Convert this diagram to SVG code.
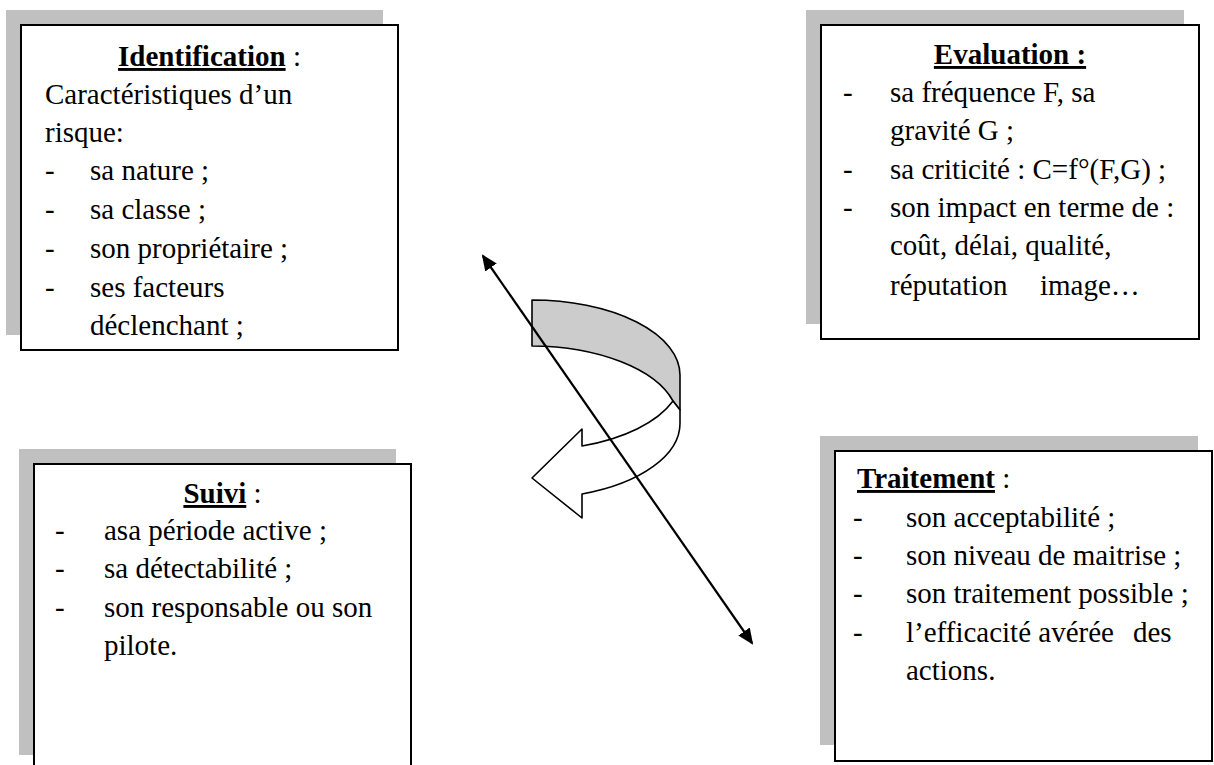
<svg xmlns="http://www.w3.org/2000/svg" width="1214" height="765" viewBox="0 0 1214 765" font-family="Liberation Serif, Times New Roman, Times, serif" font-size="29">
<defs>
<style>
.shadow{fill:#c0c0c0;}
.box{fill:#ffffff;stroke:#000;stroke-width:2;}
.t{font-weight:bold;text-decoration:underline;}
.mid{text-anchor:middle;}
.band{stroke:#000;stroke-width:1.6;stroke-linejoin:round;}
</style>
<marker id="ah" viewBox="0 0 16 14" refX="14" refY="7" markerWidth="16" markerHeight="14" markerUnits="userSpaceOnUse" orient="auto-start-reverse">
<path d="M0,0 L16,7 L0,14 Z" fill="#000"/>
</marker>
</defs>
<rect width="1214" height="765" fill="#fff"/>

<g id="identification">
<rect class="shadow" x="6" y="10" width="377" height="325"/>
<rect class="box" x="21" y="25" width="377" height="325"/>
<text class="mid" x="209.5" y="66"><tspan class="t">Identification</tspan> :</text>
<text x="45" y="104">Caractéristiques d’un</text>
<text x="45" y="142">risque:</text>
<text x="45" y="180">-</text><text x="90" y="180">sa nature ;</text>
<text x="45" y="219">-</text><text x="90" y="219">sa classe ;</text>
<text x="45" y="258">-</text><text x="90" y="258">son propriétaire ;</text>
<text x="45" y="297">-</text><text x="90" y="297">ses facteurs</text>
<text x="90" y="335">déclenchant ;</text>
</g>

<g id="evaluation">
<rect class="shadow" x="806" y="10" width="378" height="314"/>
<rect class="box" x="821" y="25" width="378" height="314"/>
<text class="mid t" x="1010" y="64">Evaluation :</text>
<text x="843" y="102">-</text><text x="890" y="102">sa fréquence F, sa</text>
<text x="890" y="140">gravité G ;</text>
<text x="843" y="179">-</text><text x="890" y="179">sa criticité : C=f°(F,G) ;</text>
<text x="843" y="217">-</text><text x="890" y="217">son impact en terme de :</text>
<text x="890" y="255">coût, délai, qualité,</text>
<text x="890" y="295">réputation</text><text x="1040" y="295">image…</text>
</g>

<g id="suivi">
<rect class="shadow" x="19" y="449" width="377" height="306"/>
<rect class="box" x="34" y="464" width="377" height="306"/>
<text class="mid" x="222.5" y="503"><tspan class="t">Suivi</tspan> :</text>
<text x="55" y="540">-</text><text x="104" y="540">asa période active ;</text>
<text x="55" y="578">-</text><text x="104" y="578">sa détectabilité ;</text>
<text x="55" y="617">-</text><text x="104" y="617">son responsable ou son</text>
<text x="104" y="655">pilote.</text>
</g>

<g id="traitement">
<rect class="shadow" x="820" y="436" width="378" height="309"/>
<rect class="box" x="835" y="451" width="377" height="310"/>
<text x="857" y="488"><tspan class="t">Traitement</tspan> :</text>
<text x="853" y="527">-</text><text x="906" y="527">son acceptabilité ;</text>
<text x="853" y="565">-</text><text x="906" y="565">son niveau de maitrise ;</text>
<text x="853" y="603">-</text><text x="906" y="603">son traitement possible ;</text>
<text x="853" y="642">-</text><text x="906" y="642">l’efficacité avérée</text><text x="1133" y="642">des</text>
<text x="906" y="680">actions.</text>
</g>

<g id="cycle-arrow">
<path class="band" fill="#cccccc" d="M532,300 A148,75 0 0 1 680,375 L680,410 L673,401 A148,75 0 0 0 532,346 Z"/>
<path class="band" fill="#ffffff" d="M680,410 L680,423 A148,75 0 0 1 582,494 L582,518 L532,478 L582,429 L582,446 A148,75 0 0 0 673,401 Z"/>
</g>

<g id="connectors">
<line x1="483" y1="256" x2="752" y2="643" stroke="#000" stroke-width="2.2" marker-start="url(#ah)" marker-end="url(#ah)"/>
</g>
</svg>
